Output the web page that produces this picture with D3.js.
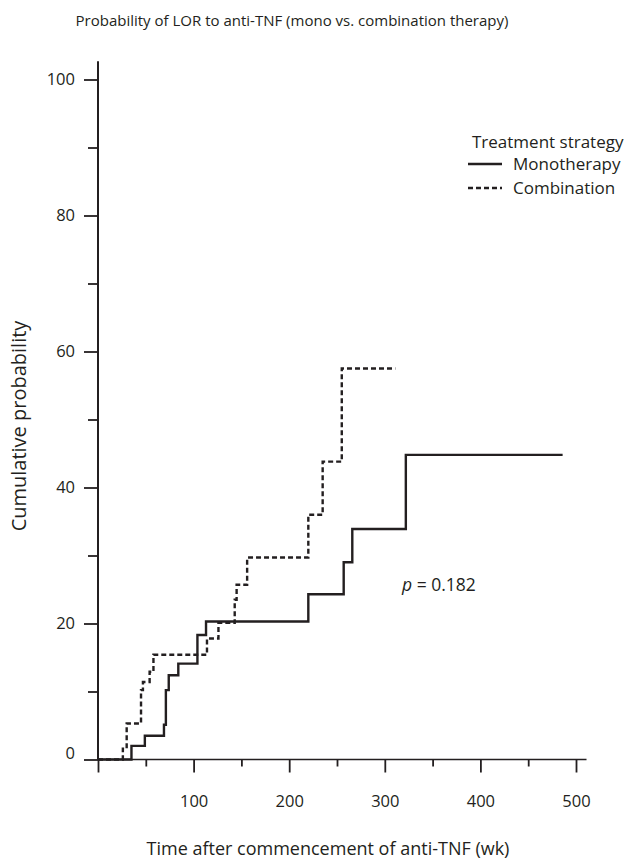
<!DOCTYPE html>
<html>
<head>
<meta charset="utf-8">
<script src="https://cdn.jsdelivr.net/npm/d3@7"></script>
<style>
  body { margin: 0; background: #fff; }
  svg text { font-family: "Open Sans", "Noto Sans", sans-serif; fill: #231f20; }
</style>
</head>
<body>
<svg id="chart"></svg>
<script>
// monotherapy: step times (wk) and cumulative probability (%)
const monoTime = [0, 35, 49, 69, 71, 74, 84, 104, 113, 220, 257, 266, 322, 486];
const monoProb = [0, 2.0, 3.5, 5.1, 10.2, 12.4, 14.1, 18.3, 20.3, 24.3, 29.0, 33.9, 44.8, 44.8];

// combination therapy
const comboTime = [0, 26, 30, 45, 47, 54, 58, 114, 126, 143, 145, 156, 220, 235, 255, 311];
const comboProb = [0, 1.6, 5.3, 10.2, 11.4, 12.9, 15.4, 17.8, 20.1, 23.5, 25.7, 29.7, 36.0, 43.8, 57.5, 57.5];

const xMajor = [0, 100, 200, 300, 400, 500];
const xMinor = [50, 150, 250, 350, 450];
const yMajor = [0, 20, 40, 60, 80, 100];
const yMinor = [10, 30, 50, 70, 90];

const seriesNames = ['Monotherapy', 'Combination'];

const width = 628, height = 863;
const ink = '#231f20';

const svg = d3.select('#chart').attr('width', width).attr('height', height);

const x = d3.scaleLinear().domain([0, 500]).range([98, 576]);
const y = d3.scaleLinear().domain([0, 100]).range([759.5, 79.5]);

const yAxisMajor = d3.axisLeft(y).tickValues(yMajor).tickSize(14).tickPadding(9).tickFormat(d3.format('d'));
const yAxisMinor = d3.axisLeft(y).tickValues(yMinor).tickSize(10).tickFormat('');
const xAxisMajor = d3.axisBottom(x).tickValues(xMajor).tickSize(13).tickPadding(23).tickFormat(d => d === 0 ? '' : d);
const xAxisMinor = d3.axisBottom(x).tickValues(xMinor).tickSize(7).tickFormat('');

const gy = svg.append('g').attr('transform', `translate(${x(0)},0)`);
gy.call(yAxisMajor);
gy.append('g').call(yAxisMinor);
gy.selectAll('.domain').remove();
gy.append('line')
  .attr('x1', 0).attr('x2', 0)
  .attr('y1', y(102.7)).attr('y2', y(0))
  .attr('stroke', ink).attr('stroke-width', 2);

const gx = svg.append('g').attr('transform', `translate(0,${y(0)})`);
gx.call(xAxisMajor);
gx.append('g').call(xAxisMinor);
gx.selectAll('.domain').remove();
gx.append('line')
  .attr('x1', x(0)).attr('x2', x(511))
  .attr('stroke', ink).attr('stroke-width', 1.6);

svg.selectAll('.tick line').attr('stroke', ink).attr('stroke-width', 1.8);
svg.selectAll('.tick text')
  .style('font-size', '16.5px')
  .attr('fill', ink);
gy.selectAll('.tick text').filter(d => d === 0).attr('dy', '-0.05em');

// step curves
const line = d3.line()
  .x(d => x(d[0]))
  .y(d => y(d[1]))
  .curve(d3.curveStepAfter);

const mono = monoTime.map((t, i) => [t, monoProb[i]]);
const combo = comboTime.map((t, i) => [t, comboProb[i]]);

svg.append('path')
  .datum(mono)
  .attr('d', line)
  .attr('fill', 'none')
  .attr('stroke', ink)
  .attr('stroke-width', 2.4);

svg.append('path')
  .datum(combo)
  .attr('d', line)
  .attr('fill', 'none')
  .attr('stroke', ink)
  .attr('stroke-width', 2.4)
  .attr('stroke-dasharray', '5,3');

// titles
svg.append('text')
  .attr('x', 292).attr('y', 26)
  .attr('text-anchor', 'middle')
  .style('font-size', '15px')
  .text('Probability of LOR to anti-TNF (mono vs. combination therapy)');

svg.append('text')
  .attr('transform', 'translate(26,426) rotate(-90)')
  .attr('text-anchor', 'middle')
  .style('font-size', '20px')
  .text('Cumulative probability');

svg.append('text')
  .attr('x', 328).attr('y', 855)
  .attr('text-anchor', 'middle')
  .style('font-size', '18px')
  .text('Time after commencement of anti-TNF (wk)');

// legend
const legend = svg.append('g').attr('transform', 'translate(468,0)');
legend.append('text')
  .attr('x', 4).attr('y', 148)
  .style('font-size', '17px')
  .text('Treatment strategy');

const legendRow = legend.selectAll('.row')
  .data(seriesNames)
  .enter().append('g')
  .attr('class', 'row')
  .attr('transform', (d, i) => `translate(0,${164 + i * 24})`);

legendRow.append('line')
  .attr('x1', 0).attr('x2', 34)
  .attr('stroke', ink)
  .attr('stroke-width', 2.4)
  .attr('stroke-dasharray', (d, i) => i === 1 ? '5,3' : null);

legendRow.append('text')
  .attr('x', 45).attr('y', 6)
  .style('font-size', '17px')
  .text(d => d);

// p-value
const pText = svg.append('text')
  .attr('x', 402).attr('y', 591)
  .style('font-size', '17.5px');
pText.append('tspan').style('font-style', 'italic').text('p');
pText.append('tspan').text(' = 0.182');
</script>
</body>
</html>
